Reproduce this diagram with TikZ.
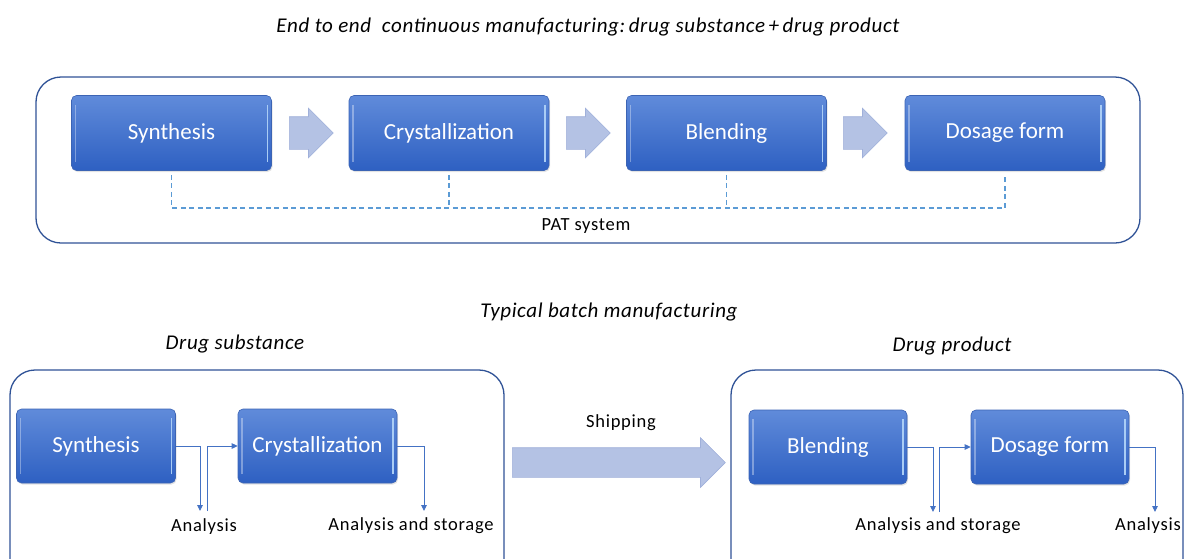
\documentclass[tikz,border=0pt]{standalone}
\usepackage{fontspec}
\setmainfont{Carlito}
\usetikzlibrary{arrows.meta,shapes.arrows,shadows}

\definecolor{boxtop}{RGB}{96,139,218}
\definecolor{boxbot}{RGB}{46,96,194}
\definecolor{boxedge}{RGB}{60,100,180}
\definecolor{rimlight}{RGB}{170,205,245}
\definecolor{framecol}{RGB}{47,82,150}
\definecolor{patcol}{RGB}{91,155,213}
\definecolor{flowcol}{RGB}{68,114,196}
\definecolor{blockfill}{RGB}{180,194,228}
\definecolor{blockedge}{RGB}{160,176,218}

\tikzset{
  stepbox/.style={rectangle, rounded corners=5pt, minimum width=200pt, minimum height=75pt,
    top color=boxtop, bottom color=boxbot, draw=boxedge, line width=0.6pt,
    text=white, font=\fontsize{23}{27}\selectfont,
    drop shadow={opacity=0.22, shadow xshift=1pt, shadow yshift=-1.5pt},
    path picture={
      \draw[white, opacity=0.35, line width=1.6pt]
        ([xshift=4pt,yshift=-9pt]path picture bounding box.north west) --
        ([xshift=4pt,yshift=9pt]path picture bounding box.south west);
      \draw[rimlight, line width=1.8pt]
        ([xshift=-4pt,yshift=-9pt]path picture bounding box.north east) --
        ([xshift=-4pt,yshift=9pt]path picture bounding box.south east);
    }},
  smallbox/.style={stepbox, minimum width=159pt, minimum height=74pt},
  blockarrow/.style={single arrow, single arrow head indent=0pt, inner xsep=0pt, anchor=west,
    fill=blockfill, draw=blockedge, line width=0.6pt},
  smallarrow/.style={blockarrow, inner ysep=16pt, minimum height=44pt, minimum width=49pt,
    single arrow head extend=8.5pt},
  frame/.style={draw=framecol, line width=1.3pt, rounded corners=25pt},
  pat/.style={draw=patcol, line width=1.1pt, dash pattern=on 5pt off 3.5pt},
  flow/.style={draw=flowcol, line width=0.9pt},
  flowtip/.style={flow, -{Triangle[length=6pt,width=5.5pt]}},
  heading/.style={font=\fontsize{21}{25}\selectfont\itshape\addfontfeature{LetterSpace=3}, text=black},
  label/.style={font=\fontsize{18.5}{22}\selectfont\addfontfeature{LetterSpace=4}, text=black, inner sep=0pt},
}

\begin{document}
\begin{tikzpicture}[x=1pt,y=-1pt]
\useasboundingbox (0,0) rectangle (1184,558);

% ---------- continuous line ----------
\node[heading] (title) at (588,27) {End to end\ \ continuous manufacturing:\,drug substance\,+\,drug product};
\draw[frame] (36,77) rectangle (1140,243);

\node[stepbox] (syn) at (171.5,133) {Synthesis};
\node[stepbox] (cry) at (449,133) {Crystallization};
\node[stepbox] (ble) at (726.5,133) {Blending};
\node[stepbox] (dos) at (1005,133) {Dosage form};

\node[smallarrow] (ar1) at (289,133) {};
\node[smallarrow] (ar2) at (566,133) {};
\node[smallarrow] (ar3) at (843,133) {};

% PAT bus under the four steps
\coordinate (busL) at (171.5,208);
\coordinate (busR) at (1005,208);
\draw[pat] ([yshift=-4pt]syn.south) -- (busL) -- (busR) -- ([yshift=-4pt]dos.south);
\draw[pat] ([yshift=-4pt]cry.south) -- (cry.south |- busL);
\draw[pat] ([yshift=-4pt]ble.south) -- (ble.south |- busL);
\node[label] (pat) at (586,226) {PAT system};

% ---------- batch line ----------
\node[heading] (batch) at (609,312) {Typical batch manufacturing};
\node[heading] (ds) at (235,344) {Drug substance};
\node[heading] (dp) at (952,346) {Drug product};

\draw[frame] (10,370) rectangle (504,585);
\draw[frame] (731,370) rectangle (1183,585);

\node[smallbox] (syn2) at (96,446) {Synthesis};
\node[smallbox] (cry2) at (317.5,446) {Crystallization};
\node[smallbox, minimum width=158pt] (ble2) at (828,447) {Blending};
\node[smallbox, minimum width=158pt] (dos2) at (1050,447) {Dosage form};

\node[blockarrow, inner ysep=14.5pt, minimum height=213pt, minimum width=49pt, single arrow head extend=10pt] (ship) at (512,462.5) {};
\node[label] (shiplbl) at (621,423) {Shipping};

% drug substance hand-offs
\coordinate (d1) at (200,511);
\coordinate (u1) at (207,511);
\coordinate (d2) at (424,511);
\draw[flowtip] (syn2.east) -| (d1);
\draw[flowtip] (u1) |- (cry2.west);
\draw[flowtip] (cry2.east) -| (d2);
\node[label] (an1) at (204,527) {Analysis};
\node[label] (as1) at (411,526) {Analysis and storage};

% drug product hand-offs
\coordinate (d3) at (933,512);
\coordinate (u3) at (939,512);
\coordinate (d4) at (1155,512);
\draw[flowtip] (ble2.east) -| (d3);
\draw[flowtip] (u3) |- (dos2.west);
\draw[flowtip] (dos2.east) -| (d4);
\node[label] (as2) at (938,526) {Analysis and storage};
\node[label] (an2) at (1148,526) {Analysis};
\end{tikzpicture}
\end{document}
